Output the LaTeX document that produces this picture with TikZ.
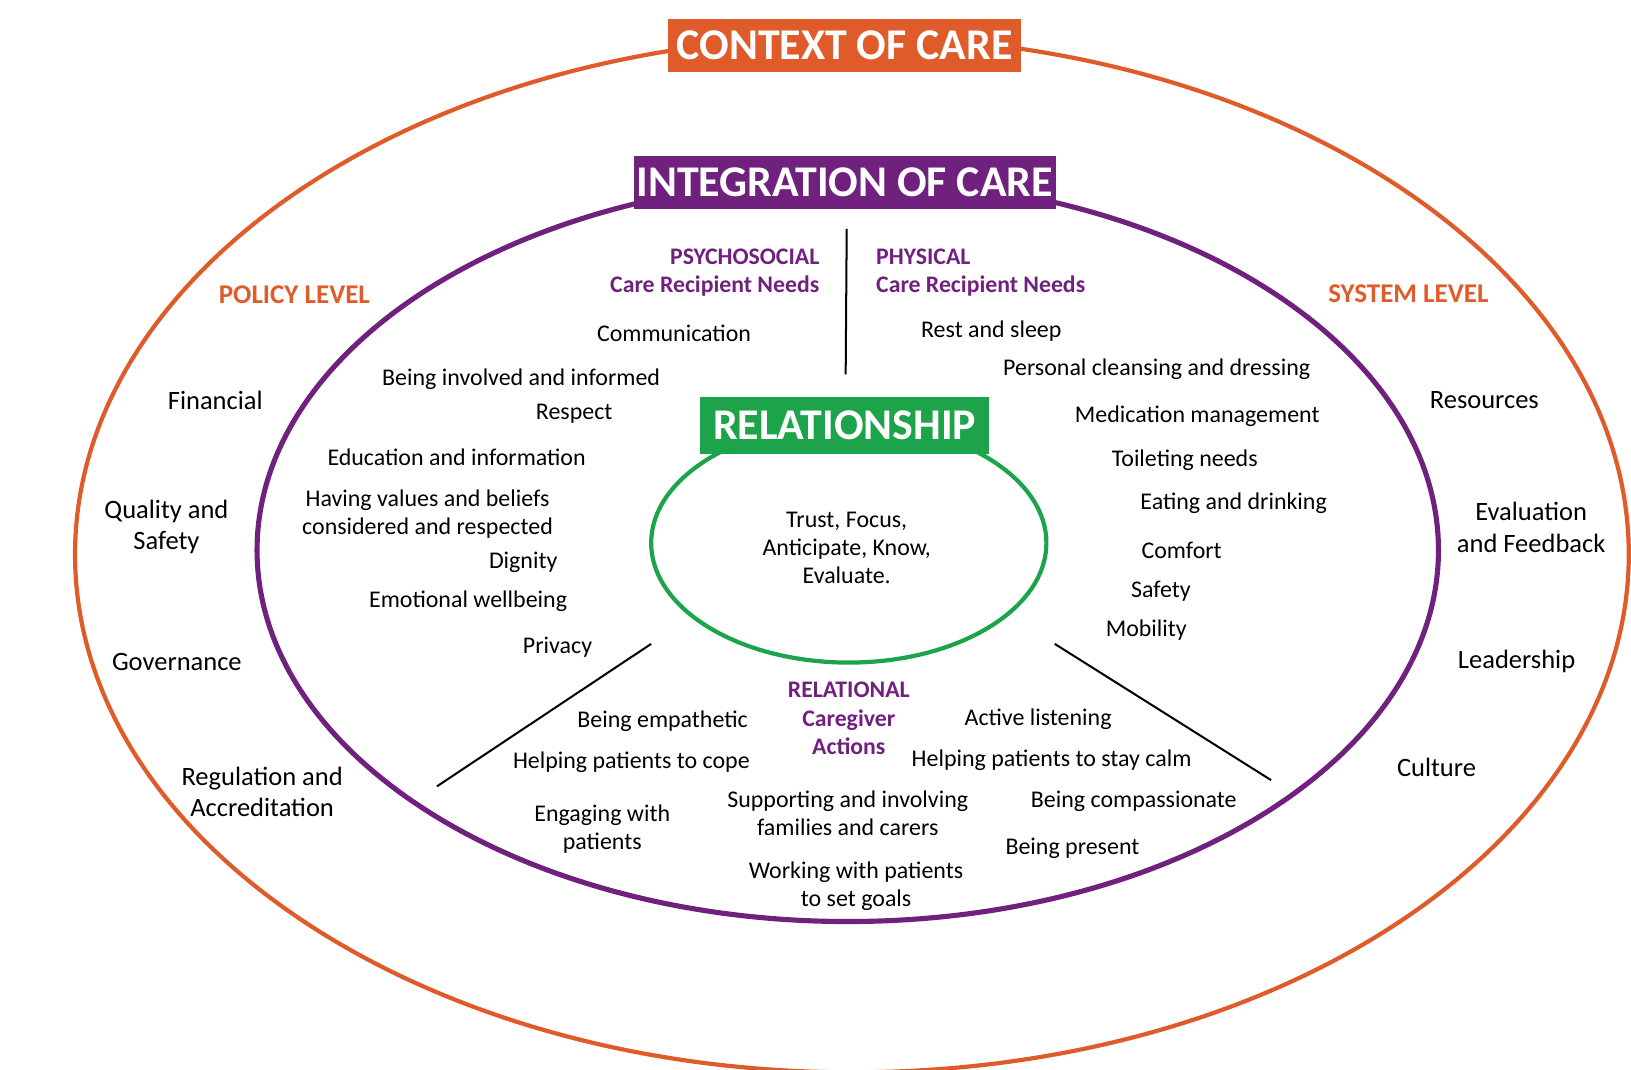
\documentclass[tikz,border=0pt]{standalone}
\usepackage{fontspec}
\setmainfont{Carlito}
\definecolor{ctxorange}{RGB}{223,92,42}
\definecolor{intpurple}{RGB}{112,33,126}
\definecolor{relgreen}{RGB}{29,163,74}
\tikzset{
  titlebox/.style={font=\bfseries\fontsize{24}{28}\selectfont, text=white, inner sep=0pt, minimum height=1.02cm},
  outer/.style={font=\fontsize{14.5}{17}\selectfont, align=center, inner sep=0pt},
  need/.style={font=\fontsize{13.1}{15.4}\selectfont, align=center, inner sep=0pt},
  levelhead/.style={font=\bfseries\fontsize{14.8}{16}\selectfont, text=ctxorange, inner sep=0pt},
  needhead/.style={font=\bfseries\fontsize{13}{15.6}\selectfont, text=intpurple, inner sep=0pt},
}
\begin{document}
\begin{tikzpicture}[x=0.02cm, y=-0.02cm]
      \useasboundingbox (0,0) rectangle (1568,1028);
      \draw[ctxorange, line width=2.3pt] (819,533) ellipse [x radius=14.94cm, y radius=9.96cm];
      \draw[intpurple, line width=2.8pt] (815,529) ellipse [x radius=11.36cm, y radius=7.14cm];
      \draw[relgreen, line width=2.3pt] (816,522) ellipse [x radius=3.8cm, y radius=2.3cm];
      \path
        (812,43.5) node[titlebox, fill=ctxorange, minimum width=6.8cm] (ctx) {CONTEXT OF CARE}
        (812,175) node[titlebox, fill=intpurple, minimum width=8.12cm] (integ) {INTEGRATION OF CARE}
        (812,409) node[titlebox, fill=relgreen, minimum width=5.56cm, minimum height=1.08cm] (rel) {RELATIONSHIP}
        (814,527) node[need] (relcore) {Trust, Focus,\\Anticipate, Know,\\Evaluate.};
      \path
        (283,283) node[levelhead] (policy) {POLICY LEVEL}
        (207,385) node[outer] (fin) {Financial}
        (160,507) node[outer] (qual) {Quality and\\Safety}
        (170,636) node[outer] (gov) {Governance}
        (252,761) node[outer] (reg) {Regulation and\\Accreditation}
        (1354,282) node[levelhead] (system) {SYSTEM LEVEL}
        (1427,385) node[outer] (res) {Resources}
        (1472,507) node[outer] (eval) {Evaluation\\and Feedback}
        (1458,636) node[outer] (lead) {Leadership}
        (1381,738) node[outer] (cult) {Culture};
      \path
        (788,262) node[needhead, align=right, anchor=east] (psy) {PSYCHOSOCIAL\\Care Recipient Needs}
        (648,320) node[need] (comm) {Communication}
        (501,365) node[need] (inv) {Being involved and informed}
        (552,398) node[need] (resp) {Respect}
        (439,440) node[need] (edu) {Education and information}
        (411,494) node[need] (val) {Having values and beliefs\\considered and respected}
        (503,541) node[need] (dig) {Dignity}
        (450,578) node[need] (emo) {Emotional wellbeing}
        (536,622) node[need] (priv) {Privacy};
      \path
        (842,262) node[needhead, align=left, anchor=west] (phys) {PHYSICAL\\Care Recipient Needs}
        (953,318) node[need] (rest) {Rest and sleep}
        (1112,355) node[need] (clean) {Personal cleansing and dressing}
        (1151,400) node[need] (med) {Medication management}
        (1139,442) node[need] (toil) {Toileting needs}
        (1186,484) node[need] (eat) {Eating and drinking}
        (1136,529) node[need] (comf) {Comfort}
        (1116,568) node[need] (safe) {Safety}
        (1102,606) node[need] (mob) {Mobility};
      \path
        (816,691) node[needhead, align=center] (relat) {RELATIONAL\\Caregiver\\Actions}
        (637,693) node[need] (emp) {Being empathetic}
        (607,733) node[need] (cope) {Helping patients to cope}
        (579,797) node[need] (engage) {Engaging with\\patients}
        (815,782) node[need] (supp) {Supporting and involving\\families and carers}
        (823,852) node[need] (goals) {Working with patients\\to set goals}
        (998,691) node[need] (listen) {Active listening}
        (1011,731) node[need] (calm) {Helping patients to stay calm}
        (1090,770) node[need] (compas) {Being compassionate}
        (1031,816) node[need] (pres) {Being present};
      \coordinate (splitTop) at (814,220);
      \coordinate (splitBot) at (813,360);
      \coordinate (leftIn) at (626,619);
      \coordinate (leftOut) at (420,756);
      \coordinate (rightIn) at (1014,619);
      \coordinate (rightOut) at (1222,750);
      \begin{scope}[line width=1.1pt]
        \draw (splitTop) to (splitBot);
        \draw (leftIn) to (leftOut);
        \draw (rightIn) to (rightOut);
      \end{scope}
    \end{tikzpicture}
\end{document}
